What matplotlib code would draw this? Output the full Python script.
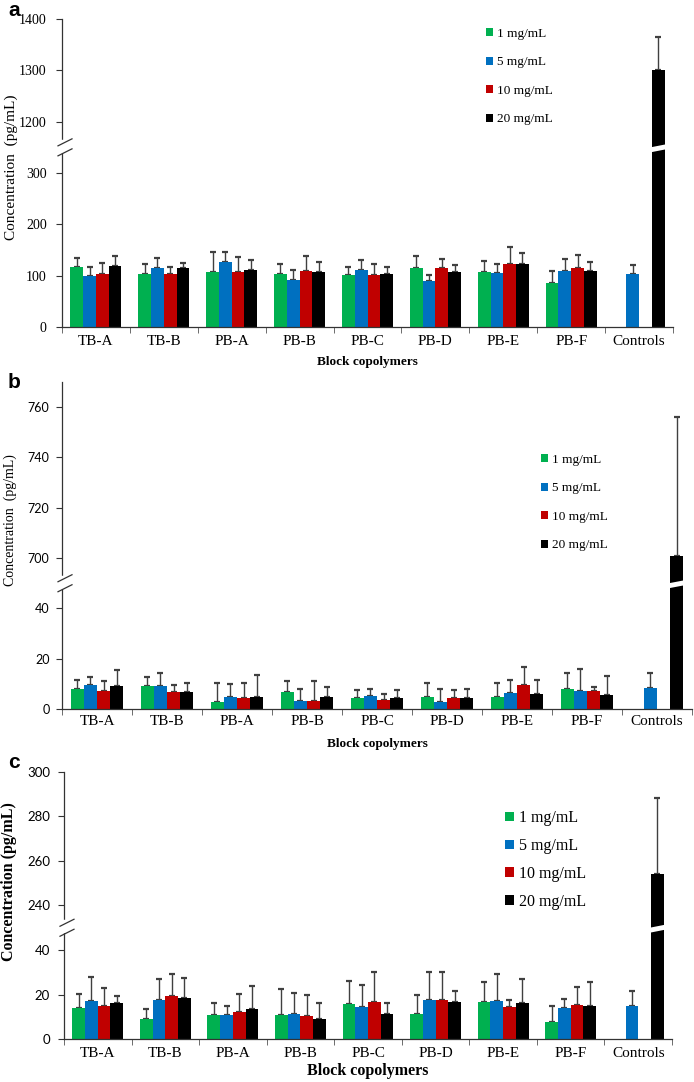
import numpy as np
import matplotlib.pyplot as plt
from matplotlib.transforms import blended_transform_factory
from matplotlib.patches import Polygon, Patch

nan = np.nan

categories = ["TB-A", "TB-B", "PB-A", "PB-B", "PB-C", "PB-D", "PB-E", "PB-F", "Controls"]
doses = ["1 mg/mL", "5 mg/mL", "10 mg/mL", "20 mg/mL"]
colors = ["#00b050", "#0070c0", "#c00000", "#000000"]

# panel a
a_1mg = [116, 104, 107, 103, 102, 115, 107, 86, nan]
a_5mg = [99, 115, 126, 92, 111, 90, 105, 110, 104]
a_10mg = [103, 104, 108, 110, 101, 115, 122, 115, nan]
a_20mg = [119, 115, 112, 107, 104, 108, 123, 110, 1300]
a_1mg_err = [19, 19, 39, 20, 14, 23, 22, 24, nan]
a_5mg_err = [17, 20, 20, 20, 19, 11, 18, 23, 16]
a_10mg_err = [21, 12, 29, 29, 21, 18, 34, 26, nan]
a_20mg_err = [19, 9, 19, 19, 13, 12, 21, 16, 64]
a_ticks = [0, 100, 200, 300, 1200, 1300, 1400]

# panel b
b_1mg = [7.8, 9.1, 2.8, 6.8, 4.2, 4.8, 4.6, 7.8, nan]
b_5mg = [9.5, 9.1, 4.8, 3.1, 5.1, 2.6, 6.2, 7.1, 8.5]
b_10mg = [7.1, 6.8, 4.3, 3.1, 3.6, 4.2, 9.5, 7.1, nan]
b_20mg = [9.1, 6.8, 4.6, 4.8, 4.2, 4.2, 5.9, 5.5, 701]
b_1mg_err = [3.6, 3.7, 7.7, 4.2, 3.2, 5.4, 5.6, 6.4, nan]
b_5mg_err = [3.3, 5.4, 5.0, 4.7, 2.9, 5.5, 5.2, 8.7, 5.7]
b_10mg_err = [3.9, 2.6, 6.2, 7.9, 2.2, 3.2, 7.0, 1.6, nan]
b_20mg_err = [6.3, 3.4, 9.0, 3.9, 3.2, 3.6, 5.5, 7.7, 55]
b_ticks = [0, 20, 40, 700, 720, 740, 760]

# panel c
c_1mg = [13.8, 8.9, 10.7, 10.7, 15.6, 11.1, 16.8, 7.8, nan]
c_5mg = [17.3, 17.7, 10.7, 11.1, 14.6, 17.6, 17.1, 14.1, 14.9]
c_10mg = [14.9, 19.4, 12.3, 10.4, 16.8, 17.6, 14.6, 15.2, nan]
c_20mg = [16.1, 18.6, 13.4, 8.9, 11.1, 16.8, 16.1, 14.9, 254]
c_1mg_err = [6.4, 4.8, 5.4, 11.7, 10.3, 8.6, 8.9, 7.2, nan]
c_5mg_err = [10.4, 9.2, 4.2, 9.5, 9.7, 12.6, 12.1, 4.1, 6.8]
c_10mg_err = [8.0, 9.8, 7.9, 9.3, 13.1, 12.6, 2.8, 8.0, nan]
c_20mg_err = [3.3, 8.8, 10.5, 7.2, 5.0, 4.9, 10.8, 10.5, 34.5]
c_ticks = [0, 20, 40, 240, 260, 280, 300]

W, H = 694, 1082
SERIF = "Liberation Serif"
SANS = ["Lato", "DejaVu Sans"]


def broken_scale(lo, hi, g=1e-3):
    shift = hi - lo

    def fwd(v):
        v = np.asarray(v, float)
        return np.where(v <= lo, v, np.where(v >= hi, v - shift + g, lo + (v - lo) / shift * g))

    def inv(d):
        d = np.asarray(d, float)
        return np.where(d <= lo, d, np.where(d >= lo + g, d + shift - g, lo + (d - lo) / g * shift))
    return fwd, inv


def panel(box, means, errs, ticks, lo, hi, cfg):
    l, r, t, b = box
    ax = fig.add_axes([l / W, 1 - b / H, (r - l) / W, (b - t) / H])
    fwd, inv = broken_scale(lo, hi)
    ax.set_yscale("function", functions=(fwd, inv))
    x = np.arange(len(categories))
    w = 0.188
    for k in range(4):
        m = np.array(means[k], float)
        e = np.array(errs[k], float)
        ok = ~np.isnan(m)
        xs = x[ok] + (k - 1.5) * w
        ax.bar(xs, m[ok], w, color=colors[k], zorder=2)
        ax.errorbar(xs, m[ok], yerr=[np.zeros(ok.sum()), e[ok]], fmt="none",
                    ecolor="#404040", elinewidth=1.0, capsize=2.2, capthick=1.6, zorder=1)
    ax.set_xlim(-0.5, len(categories) - 0.5)
    ax.set_ylim(0, ticks[-1] if cfg.get("ymax") is None else cfg["ymax"])
    ax.set_yticks(ticks)
    ax.set_yticklabels([str(v) for v in ticks], family=cfg["tickfam"], fontsize=cfg["ticksize"])
    ax.set_xticks(x)
    ax.set_xticklabels(categories, family=SERIF, fontsize=cfg["catsize"])
    ax.set_xticks(np.arange(len(categories) + 1) - 0.5, minor=True)
    ax.tick_params(axis="x", which="major", length=0, pad=cfg["catpad"])
    ax.tick_params(axis="x", which="minor", length=4, color="#555555", direction="out")
    ax.tick_params(axis="y", length=4, color="#333333", pad=cfg["ypad"])
    for s in ["top", "right"]:
        ax.spines[s].set_visible(False)
    for s in ["left", "bottom"]:
        ax.spines[s].set_color("#333333")
        ax.spines[s].set_linewidth(0.9)

    ax.set_xlabel("Block copolymers", family=SERIF, fontweight="bold", fontsize=cfg["xlsize"])
    ax.xaxis.set_label_coords(0.5, cfg["xly"])
    ax.set_ylabel(cfg["ylabel"], family=SERIF, fontweight=cfg["ylweight"], fontsize=cfg["ylsize"])
    ax.yaxis.set_label_coords(cfg["ylx"], cfg["yly"])

    # axis break marks
    f = float(fwd(lo) / fwd(ax.get_ylim()[1]))
    wpx, hpx = r - l, b - t
    x0, x1, dy, gap = -4.0 / wpx, 10.0 / wpx, 3.5 / hpx, 5.0 / hpx
    ax.plot([0, 0], [f - gap + 1.5 / hpx, f + gap + 1.5 / hpx], transform=ax.transAxes,
            color="white", lw=2.5, clip_on=False, zorder=5)
    for off in (-gap, gap):
        ax.plot([x0, x1], [f + off - dy, f + off + dy], transform=ax.transAxes,
                color="#333333", lw=0.9, clip_on=False, zorder=6)

    # white break across the tall control bar
    tr = blended_transform_factory(ax.transData, ax.transAxes)
    xc = x[-1] + 1.5 * w
    lo_l, hi_l = f - 6.0 / hpx, f - 1.0 / hpx
    lo_r, hi_r = f - 1.0 / hpx, f + 4.0 / hpx
    poly = Polygon([[xc - w, lo_l], [xc + w, lo_r], [xc + w, hi_r], [xc - w, hi_l]],
                   closed=True, transform=tr, facecolor="white", edgecolor="none", zorder=3)
    ax.add_patch(poly)

    handles = [Patch(facecolor=c) for c in colors]
    ax.legend(handles, doses, loc="upper left",
              bbox_to_anchor=(cfg["legx"] / W, 1 - cfg["legy"] / H),
              bbox_transform=fig.transFigure, frameon=False, borderpad=0, borderaxespad=0,
              handlelength=0.55, handleheight=0.55, handletextpad=0.3,
              labelspacing=cfg["legsp"], prop={"family": SERIF, "size": cfg["legsize"]})
    return ax


fig = plt.figure(figsize=(W / 100, H / 100), dpi=100)

panel((62, 673, 19, 327),
      [a_1mg, a_5mg, a_10mg, a_20mg], [a_1mg_err, a_5mg_err, a_10mg_err, a_20mg_err],
      a_ticks, 350, 1150,
      dict(tickfam=SERIF, ticksize=10, ypad=7, catsize=11, catpad=6, xlsize=9.5, xly=-0.095,
           ylabel="Concentration  (pg/mL)", ylweight="normal", ylsize=11, ylx=-0.072, yly=0.52,
           legx=486, legy=28, legsp=1.25, legsize=9.5))

panel((62, 692, 382, 709),
      [b_1mg, b_5mg, b_10mg, b_20mg], [b_1mg_err, b_5mg_err, b_10mg_err, b_20mg_err],
      b_ticks, 50, 690,
      dict(tickfam=SANS, ticksize=9, ypad=5, catsize=11, catpad=4, xlsize=9.5, xly=-0.088, ymax=770,
           ylabel="Concentration  (pg/mL)", ylweight="normal", ylsize=10, ylx=-0.072, yly=0.578,
           legx=541, legy=454, legsp=1.25, legsize=9.5))

panel((64, 672, 772, 1039),
      [c_1mg, c_5mg, c_10mg, c_20mg], [c_1mg_err, c_5mg_err, c_10mg_err, c_20mg_err],
      c_ticks, 50, 230,
      dict(tickfam=SANS, ticksize=9.5, ypad=6, catsize=11, catpad=6, xlsize=11.5, xly=-0.09,
           ylabel="Concentration (pg/mL)", ylweight="bold", ylsize=11.5, ylx=-0.077, yly=0.59,
           legx=505, legy=810, legsp=0.75, legsize=11.5))

for letter, yb in (("a", 16), ("b", 388), ("c", 768)):
    fig.text(8 / W, 1 - yb / H, letter, family="Liberation Sans", fontweight="bold",
             fontsize=15, va="baseline", ha="left")

fig.savefig("out.png", dpi=100)
